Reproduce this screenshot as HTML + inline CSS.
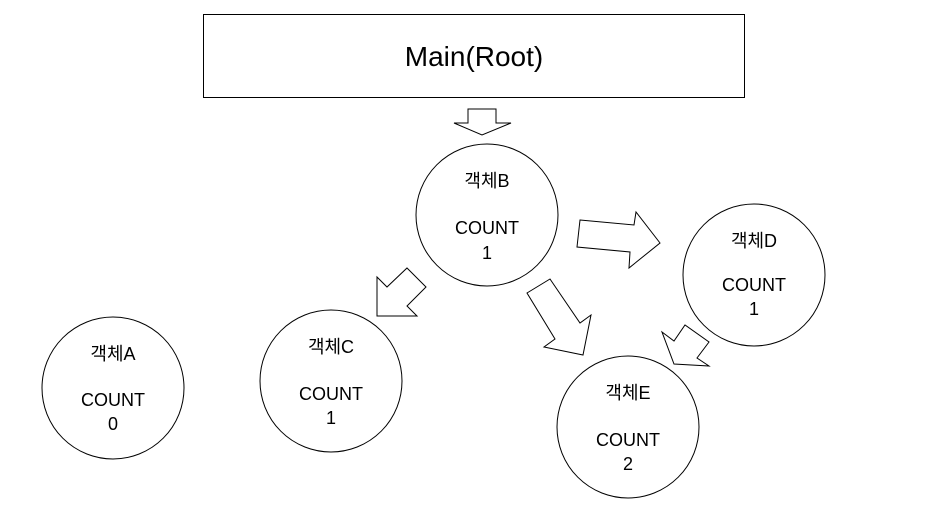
<!DOCTYPE html>
<html><head><style>body{margin:0;background:#fff}</style></head><body>
<svg width="942" height="506" xmlns="http://www.w3.org/2000/svg" style="display:block;font-family:'Liberation Sans','Noto Sans CJK KR',sans-serif">
<rect width="942" height="506" fill="#fff"/>
<g fill="#fff" stroke="#000" stroke-width="1">
<rect x="203.5" y="14.5" width="541" height="83"/>
<polygon points="468,109 496,109 496,123 511,123 482,135 454,123 468,123"/>
<circle cx="487" cy="215" r="71"/>
<circle cx="113" cy="388" r="71"/>
<circle cx="331" cy="381" r="71"/>
<circle cx="754" cy="275" r="71"/>
<circle cx="628" cy="427" r="71"/>
<polygon points="580,220 634,225 636,212 660,243 629,268 630,252 577,247"/>
<polygon points="407,268 426,287 407,306 417,316 377,316 377,277 387,287"/>
<polygon points="527,293 550,279 580,323 591,315 583,355 544,347 555,339"/>
<polygon points="662,332 674,341 685,325 709,342 697,358 709,366 674,364"/>
</g>
<g font-size="18" text-anchor="middle" fill="#000">
<text x="474" y="66" font-size="28">Main(Root)</text>
<text x="487" y="187">객체B</text><text x="487" y="234">COUNT</text><text x="487" y="259">1</text>
<text x="113" y="360">객체A</text><text x="113" y="406">COUNT</text><text x="113" y="430">0</text>
<text x="331" y="353">객체C</text><text x="331" y="400">COUNT</text><text x="331" y="424">1</text>
<text x="754" y="247">객체D</text><text x="754" y="291">COUNT</text><text x="754" y="315">1</text>
<text x="628" y="399">객체E</text><text x="628" y="446">COUNT</text><text x="628" y="470">2</text>
</g>
</svg>
</body></html>
